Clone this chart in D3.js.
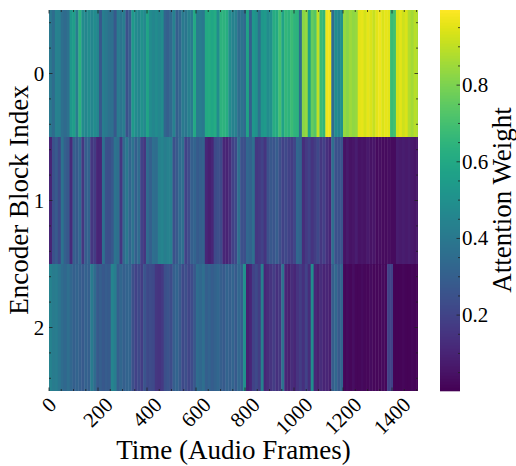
<!DOCTYPE html>
<html>
<head>
<meta charset="utf-8">
<script src="https://d3js.org/d3.v7.min.js"></script>
<style>
body { margin: 0; background: #fff; }
text { font-family: "Liberation Serif", serif; fill: #000; }
</style>
</head>
<body>
<div id="chart"></div>
<script>
// frames per stripe, last one is cut off by the clip at maxFrame
var frameStep = 12, maxFrame = 1506;
var blocks = [0, 1, 2];
var xTicks = [0, 200, 400, 600, 800, 1000, 1200, 1400];
var cbarTicks = [0.2, 0.4, 0.6, 0.8];
var cbarDomain = [0.002, 0.996];

var block0 = [.40,.35,.44,.43,.36,.34,.37,.53,.56,.42,.64,.48,.46,.48,.46,.48,.46,.27,.42,.40,.37,.36,.27,.41,.39,.42,.25,.30,.54,.48,.46,.50,.47,.58,.48,.46,.48,.46,.48,.32,.30,.34,.44,.30,.33,.41,.39,.43,.41,.60,.41,.42,.40,.60,.61,.59,.61,.48,.64,.64,.62,.48,
  .44,.43,.35,.38,.34,.58,.30,.53,.50,.38,.53,.54,.48,.50,.62,.60,.70,.58,.66,.64,.68,.65,.64,.35,.82,.84,.58,.76,.73,.90,.68,.66,.97,.97,.35,.48,.46,.50,.84,.82,.85,.83,.84,.95,.96,.93,.96,.94,.91,.95,.97,.94,.96,.95,.68,.70,.93,.95,.92,.94,.88,.86,.89,.87];
var block1 = [.10,.25,.28,.22,.38,.30,.27,.12,.30,.28,.33,.16,.29,.31,.16,.18,.11,.11,.36,.25,.24,.27,.38,.36,.16,.34,.40,.32,.38,.30,.35,.20,.16,.34,.30,.36,.35,.43,.45,.42,.44,.43,.25,.28,.34,.36,.20,.23,.30,.32,.28,.30,.31,.11,.09,.11,.22,.24,.22,.11,.10,.13,
  .20,.22,.36,.25,.24,.33,.31,.36,.16,.17,.20,.15,.25,.27,.26,.29,.24,.20,.22,.20,.18,.21,.33,.31,.13,.17,.20,.15,.18,.22,.16,.19,.14,.11,.36,.25,.25,.26,.05,.07,.05,.06,.08,.05,.06,.05,.07,.05,.06,.03,.04,.03,.03,.04,.03,.03,.08,.07,.08,.07,.08,.07,.06,.07];
var block2 = [.44,.41,.42,.39,.35,.33,.36,.33,.30,.32,.30,.28,.31,.30,.41,.35,.28,.30,.27,.29,.28,.45,.42,.30,.33,.30,.32,.32,.24,.20,.22,.18,.26,.22,.23,.22,.16,.15,.17,.24,.26,.23,.30,.32,.28,.22,.24,.21,.23,.27,.35,.33,.36,.30,.32,.29,.31,.33,.30,.28,.32,.30,
  .32,.28,.33,.30,.50,.09,.11,.20,.22,.18,.43,.11,.13,.15,.18,.14,.16,.38,.11,.09,.13,.11,.15,.18,.14,.20,.13,.48,.11,.09,.13,.10,.11,.09,.30,.33,.28,.32,.02,.03,.02,.04,.02,.02,.03,.02,.02,.03,.02,.02,.02,.03,.02,.20,.20,.01,.01,.01,.02,.01,.01,.02,.01,.01];
var weights = [block0, block1, block2];

var svg = d3.select('#chart').append('svg')
    .attr('width', 516)
    .attr('height', 466);

var plot = { left: 49, right: 418, top: 10, bottom: 391 };
var cbar = { left: 440, right: 460 };

var x = d3.scaleLinear().domain([0, maxFrame]).range([plot.left, plot.right]);
var yBand = d3.scaleBand().domain(blocks).range([plot.top, plot.bottom]);
var y = d3.scaleLinear().domain([-0.5, 2.5]).range([plot.top, plot.bottom]);
var cScale = d3.scaleLinear().domain(cbarDomain).range([plot.bottom, plot.top]);
var color = d3.scaleSequential(d3.interpolateViridis).domain(cbarDomain);

svg.append('clipPath').attr('id', 'plot-clip').append('rect')
    .attr('x', plot.left).attr('y', plot.top)
    .attr('width', plot.right - plot.left).attr('height', plot.bottom - plot.top);

// heatmap stripes
var rows = svg.append('g').attr('clip-path', 'url(#plot-clip)')
    .selectAll('g')
    .data(blocks)
    .enter()
    .append('g');

rows.selectAll('rect')
    .data(function (b) { return weights[b].map(function (v, i) { return { b: b, i: i, v: v }; }); })
    .enter()
    .append('rect')
    .attr('x', function (d) { return x(d.i * frameStep); })
    .attr('y', function (d) { return yBand(d.b); })
    .attr('width', x(frameStep) - x(0) + 0.4)
    .attr('height', yBand.bandwidth() + 0.3)
    .attr('fill', function (d) { return color(d.v); });

// inward ticks on all sides of the heatmap
function ticksH(values, yPos, len, dir) {
    svg.append('g').selectAll('line').data(values).enter().append('line')
        .attr('x1', function (d) { return x(d); })
        .attr('x2', function (d) { return x(d); })
        .attr('y1', yPos)
        .attr('y2', yPos + dir * len)
        .attr('stroke', '#222').attr('stroke-width', 0.8);
}
function ticksV(values, xPos, len, dir) {
    svg.append('g').selectAll('line').data(values).enter().append('line')
        .attr('x1', xPos)
        .attr('x2', xPos + dir * len)
        .attr('y1', function (d) { return y(d); })
        .attr('y2', function (d) { return y(d); })
        .attr('stroke', '#222').attr('stroke-width', 0.8);
}
var xMinor = d3.range(0, maxFrame, 50).filter(function (d) { return d % 200 != 0; });
var yMinor = d3.range(-0.4, 2.5, 0.2).filter(function (d) { return Math.abs(d - Math.round(d)) > 0.01; });

ticksH(xTicks, plot.bottom, 3.5, -1);
ticksH(xTicks, plot.top, 3.5, 1);
ticksH(xMinor, plot.bottom, 2, -1);
ticksH(xMinor, plot.top, 2, 1);
ticksV(blocks, plot.left, 3.5, 1);
ticksV(blocks, plot.right, 3.5, -1);
ticksV(yMinor, plot.left, 2, 1);
ticksV(yMinor, plot.right, 2, -1);

// x tick labels, centred on the tick and rotated
var fontTick = 21;
svg.append('g').selectAll('text').data(xTicks).enter().append('text')
    .attr('font-size', fontTick + 'px')
    .attr('text-anchor', 'middle')
    .attr('dominant-baseline', 'central')
    .text(function (d) { return d; })
    .attr('transform', function (d) {
        var w = this.getComputedTextLength();
        var half = (w + fontTick * 0.7) * Math.SQRT1_2 / 2;
        return 'translate(' + x(d) + ',' + (396 + half) + ') rotate(-45)';
    });

svg.append('g').selectAll('text').data(blocks).enter().append('text')
    .attr('x', 39)
    .attr('y', function (d) { return y(d); })
    .attr('font-size', fontTick + 'px')
    .attr('text-anchor', 'middle')
    .attr('dominant-baseline', 'central')
    .text(function (d) { return d; });

svg.append('text')
    .attr('x', 233.5)
    .attr('y', 459)
    .attr('font-size', '27px')
    .attr('text-anchor', 'middle')
    .text('Time (Audio Frames)');

svg.append('text')
    .attr('transform', 'translate(28,200) rotate(-90)')
    .attr('font-size', '27px')
    .attr('text-anchor', 'middle')
    .text('Encoder Block Index');

// colorbar
var cbarSteps = d3.range(plot.top, plot.bottom, 1);
svg.append('g').selectAll('rect').data(cbarSteps).enter().append('rect')
    .attr('x', cbar.left)
    .attr('y', function (d) { return d; })
    .attr('width', cbar.right - cbar.left)
    .attr('height', 1.3)
    .attr('fill', function (d) { return color(cScale.invert(d + 0.5)); });

var cbarMinor = d3.range(0.05, 1, 0.05).filter(function (d) { return Math.abs(d * 5 - Math.round(d * 5)) > 0.01; });
svg.append('g').selectAll('line').data(cbarMinor).enter().append('line')
    .attr('x1', cbar.right).attr('x2', cbar.right - 2)
    .attr('y1', function (d) { return cScale(d); })
    .attr('y2', function (d) { return cScale(d); })
    .attr('stroke', '#222').attr('stroke-width', 0.8);
svg.append('g').selectAll('line').data(cbarTicks).enter().append('line')
    .attr('x1', cbar.right).attr('x2', cbar.right - 3.5)
    .attr('y1', function (d) { return cScale(d); })
    .attr('y2', function (d) { return cScale(d); })
    .attr('stroke', '#222').attr('stroke-width', 0.8);

svg.append('g').selectAll('text').data(cbarTicks).enter().append('text')
    .attr('x', 462)
    .attr('y', function (d) { return cScale(d); })
    .attr('font-size', fontTick + 'px')
    .attr('dominant-baseline', 'central')
    .text(function (d) { return d.toFixed(1); });

svg.append('text')
    .attr('transform', 'translate(511,200) rotate(-90)')
    .attr('font-size', '27px')
    .attr('text-anchor', 'middle')
    .text('Attention Weight');
</script>
</body>
</html>
